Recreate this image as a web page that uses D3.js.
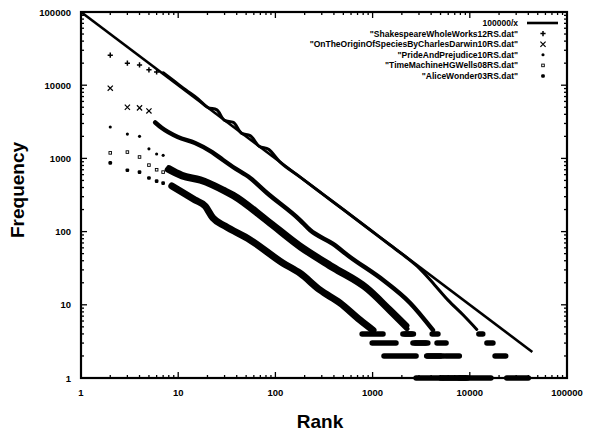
<!DOCTYPE html>
<html><head><meta charset="utf-8">
<script src="https://cdn.jsdelivr.net/npm/d3@7"></script>
<style>body{margin:0;background:#fff;}svg{display:block;}</style>
</head><body>
<svg id="chart" width="592" height="434"></svg>
<script>
// ---------- data ----------
const legendLabels = [
  "100000/x",
  "\"ShakespeareWholeWorks12RS.dat\"",
  "\"OnTheOriginOfSpeciesByCharlesDarwin10RS.dat\"",
  "\"PrideAndPrejudice10RS.dat\"",
  "\"TimeMachineHGWells08RS.dat\"",
  "\"AliceWonder03RS.dat\""
];
const xTickValues = [1, 10, 100, 1000, 10000, 100000];
const xTickLabels = ["1", "10", "100", "1000", "10000", "100000"];
const yTickValues = [1, 10, 100, 1000, 10000, 100000];
const yTickLabels = ["1", "10", "100", "1000", "10000", "100000"];

// reference line 100000/x (end points)
const zipfRanks = [1, 44000];
const zipfFreqs = [100000, 2.27];

// each series: sparse head points [rank, freq], dense body [rank, freq], tail steps [freq, rankFrom, rankTo]
const shakespeareHead = [[2,25700],[3,20000],[4,18900],[5,16200],[6,15200]];
const shakespeareBody = [[7,14800],[9,11500],[12,8600],[16,6500],[20,5000],[25,4600],[30,3300],[37,3100],[45,2200],[55,2050],[68,1470],[85,1330],[110,910],[180,555],[300,333],[500,200],[940,106],[1500,66],[2200,45],[3070,31],[4300,19],[6000,11.5],[8500,7.3],[11800,4.6]];
const shakespeareSteps = [[4,12400,13600],[3,15000,17300],[2,18200,23400],[1,24000,40000]];

const originHead = [[2,9100],[3,5000],[4,4900],[5,4450]];
const originBody = [[5.8,3100],[6.8,2600],[9.9,1960],[14.9,1620],[22.3,1220],[28.9,950],[36.6,763],[55,540],[82,337],[179,144],[227,105],[391,68],[585,45],[1280,21.8],[2430,10.6],[4180,4.5]];
const originSteps = [[4,4100,4700],[3,4600,5700],[2,5700,7800],[1,7800,16500]];

const prideHead = [[2,2680],[3,2150],[4,2000],[5,1350],[6,1150],[7,1100]];
const prideBody = [[8,750],[11,605],[17,525],[30,375],[37,325],[82,148],[179,66],[391,34],[875,17.5],[1510,8.8],[2258,5.2]];
const prideSteps = [[4,2160,2630],[3,2750,3700],[2,3700,5400],[1,5400,9500]];

const timeHead = [[2,1190],[3,1220],[4,1045],[5,810],[6,700],[7,650]];
const timeBody = [[7.7,700],[10.9,560],[16.8,490],[30.3,345],[36.6,300],[82,135],[179,60],[391,31],[875,16],[1510,8],[2258,4.7]];
const timeSteps = [[4,2050,2500],[3,2600,3500],[2,3600,5000],[1,5000,9000]];

const aliceHead = [[2,870],[3,690],[4,650],[5,540],[6,490],[7,460]];
const aliceBody = [[8.6,420],[10.9,347],[14.9,270],[18.9,224],[22.8,153],[30.3,119],[55,77],[120,37],[179,27],[288,15.9],[462,10.6],[742,6.2],[1010,4.5]];
const aliceSteps = [[4,780,1280],[3,990,1740],[2,1310,2800],[1,2800,5200]];

// ---------- drawing ----------
const svg = d3.select("#chart");
const W = 592, H = 434;
const m = {left: 81, right: 25, top: 12, bottom: 56};
const x = d3.scaleLog().domain([1, 100000]).range([m.left, W - m.right]);
const y = d3.scaleLog().domain([1, 100000]).range([H - m.bottom, m.top]);
const x0 = m.left, x1 = W - m.right, y0 = H - m.bottom, y1 = m.top;

svg.append("rect").attr("width", W).attr("height", H).attr("fill", "#fff");

const series = [
  {head: shakespeareHead, body: shakespeareBody, steps: shakespeareSteps, marker: "plus", width: 3},
  {head: originHead, body: originBody, steps: originSteps, marker: "cross", width: 4.5},
  {head: prideHead, body: prideBody, steps: prideSteps, marker: "star", width: 5},
  {head: timeHead, body: timeBody, steps: timeSteps, marker: "box", width: 5},
  {head: aliceHead, body: aliceBody, steps: aliceSteps, marker: "fbox", width: 7}
];

const plot = svg.append("g");
const line = d3.line().x(d => x(d[0])).y(d => y(d[1])).curve(d3.curveMonotoneX);

function drawMarker(g, type, cx, cy, s) {
  if (type === "plus") {
    g.append("path").attr("d", `M${cx - s},${cy}H${cx + s}M${cx},${cy - s}V${cy + s}`)
      .attr("stroke", "#000").attr("stroke-width", 1.5).attr("fill", "none");
  } else if (type === "cross") {
    g.append("path").attr("d", `M${cx - s},${cy - s}L${cx + s},${cy + s}M${cx - s},${cy + s}L${cx + s},${cy - s}`)
      .attr("stroke", "#000").attr("stroke-width", 1.2).attr("fill", "none");
  } else if (type === "star") {
    g.append("circle").attr("cx", cx).attr("cy", cy).attr("r", s * 0.6).attr("fill", "#000");
  } else if (type === "box") {
    g.append("rect").attr("x", cx - s * 0.5).attr("y", cy - s * 0.5).attr("width", s).attr("height", s)
      .attr("fill", "none").attr("stroke", "#000").attr("stroke-width", 0.9);
  } else {
    g.append("rect").attr("x", cx - s * 0.7).attr("y", cy - s * 0.7).attr("width", s * 1.4).attr("height", s * 1.4)
      .attr("rx", 1.2).attr("fill", "#000");
  }
}

series.forEach(s => {
  const g = plot.append("g");
  g.append("path").datum(s.body).attr("d", line)
    .attr("fill", "none").attr("stroke", "#000").attr("stroke-width", s.width)
    .attr("stroke-linejoin", "round").attr("stroke-linecap", "round");
  g.selectAll("line.step").data(s.steps).enter().append("line")
    .attr("x1", d => x(d[1])).attr("x2", d => x(d[2]))
    .attr("y1", d => y(d[0])).attr("y2", d => y(d[0]))
    .attr("stroke", "#000").attr("stroke-width", 5.5).attr("stroke-linecap", "round");
  s.head.forEach(d => drawMarker(g, s.marker, x(d[0]), y(d[1]), 2.6));
});

// 100000/x reference line
plot.append("path").datum(d3.zip(zipfRanks, zipfFreqs))
  .attr("d", d3.line().x(d => x(d[0])).y(d => y(d[1])))
  .attr("fill", "none").attr("stroke", "#000").attr("stroke-width", 2.6);

// frame
svg.append("rect").attr("x", x0).attr("y", y1).attr("width", x1 - x0).attr("height", y0 - y1)
  .attr("fill", "none").attr("stroke", "#000").attr("stroke-width", 2.2);

// ticks (major + minor, mirrored)
const tickG = svg.append("g").attr("stroke", "#000");
const minors = [];
for (let e = 0; e < 5; e++) for (let k = 2; k <= 9; k++) minors.push(k * Math.pow(10, e));
[[xTickValues, 6], [minors, 3]].forEach(([vals, len]) => {
  vals.forEach(v => {
    const px = x(v);
    tickG.append("line").attr("x1", px).attr("x2", px).attr("y1", y0).attr("y2", y0 - len).attr("stroke-width", 1.3);
    tickG.append("line").attr("x1", px).attr("x2", px).attr("y1", y1).attr("y2", y1 + len).attr("stroke-width", 1.3);
  });
});
[[yTickValues, 6], [minors, 3]].forEach(([vals, len]) => {
  vals.forEach(v => {
    const py = y(v);
    tickG.append("line").attr("y1", py).attr("y2", py).attr("x1", x0).attr("x2", x0 + len).attr("stroke-width", 1.3);
    tickG.append("line").attr("y1", py).attr("y2", py).attr("x1", x1).attr("x2", x1 - len).attr("stroke-width", 1.3);
  });
});

// tick labels
const lab = svg.append("g").attr("font-family", "Liberation Sans, Arial, sans-serif")
  .attr("font-weight", "bold").attr("font-size", 9.5).attr("fill", "#000");
xTickValues.forEach((v, i) => {
  lab.append("text").attr("x", x(v)).attr("y", y0 + 18).attr("text-anchor", "middle").text(xTickLabels[i]);
});
yTickValues.forEach((v, i) => {
  lab.append("text").attr("x", x0 - 10).attr("y", y(v) + 3.5).attr("text-anchor", "end").text(yTickLabels[i]);
});

// axis titles
svg.append("text").attr("x", 320).attr("y", 428).attr("text-anchor", "middle")
  .attr("font-family", "Liberation Sans, Arial, sans-serif").attr("font-weight", "bold").attr("font-size", 19)
  .text("Rank");
svg.append("text").attr("transform", "translate(24,190) rotate(-90)").attr("text-anchor", "middle")
  .attr("font-family", "Liberation Sans, Arial, sans-serif").attr("font-weight", "bold").attr("font-size", 19)
  .text("Frequency");

// legend
const leg = svg.append("g").attr("font-family", "Liberation Sans, Arial, sans-serif")
  .attr("font-weight", "bold").attr("font-size", 8.5);
const legTextX = 518, legSampleX = 543, legY0 = 23, legDY = 10.6;
legendLabels.forEach((t, i) => {
  const ly = legY0 + i * legDY;
  leg.append("text").attr("x", legTextX).attr("y", ly + 3).attr("text-anchor", "end").text(t);
  if (i === 0) {
    leg.append("line").attr("x1", legSampleX - 16).attr("x2", legSampleX + 15).attr("y1", ly).attr("y2", ly)
      .attr("stroke", "#000").attr("stroke-width", 2.6);
  } else {
    drawMarker(leg, series[i - 1].marker, legSampleX, ly, 2.6);
  }
});
</script>
</body></html>
